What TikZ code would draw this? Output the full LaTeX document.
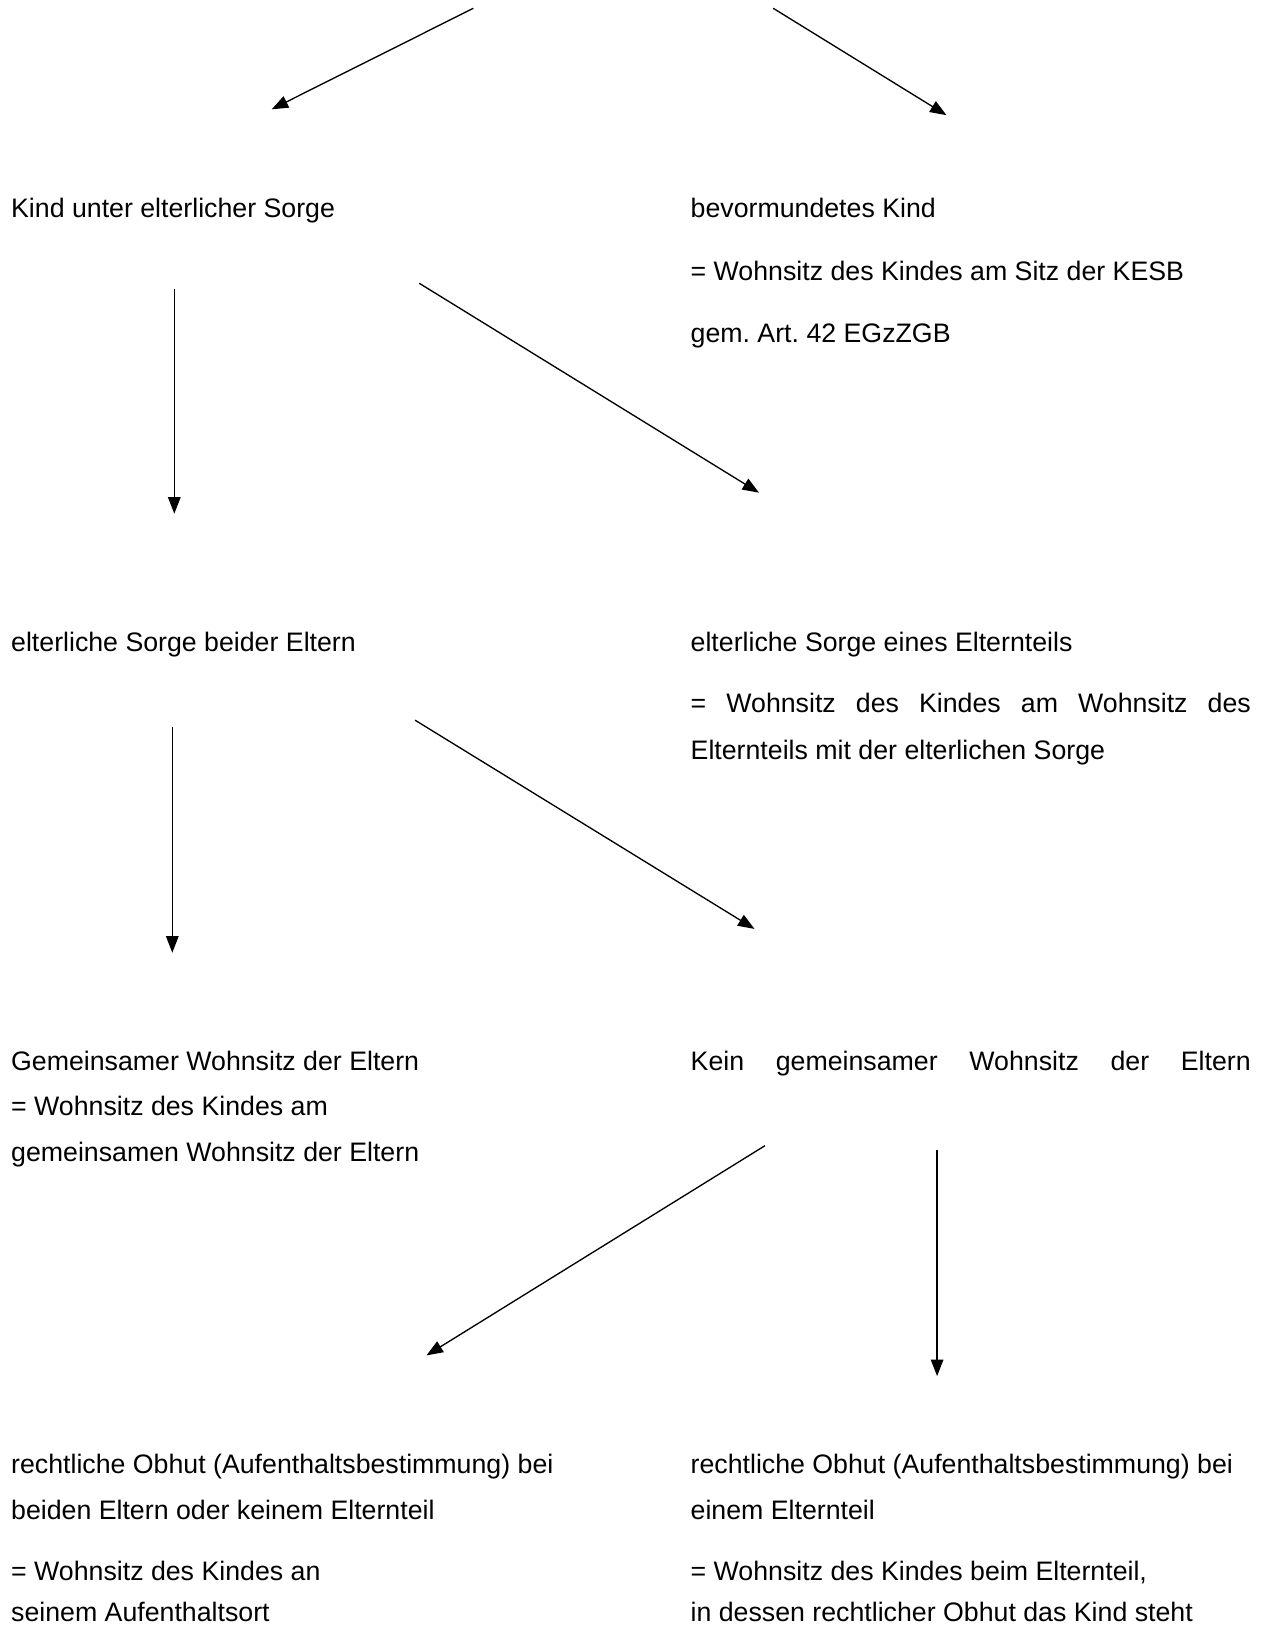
\documentclass[tikz,border=0pt]{standalone}
\usepackage{fontspec}
\setmainfont{Liberation Sans}
\usetikzlibrary{arrows.meta}
\begin{document}
\begin{tikzpicture}[x=0.449pt, y=-0.449pt, font=\fontsize{12}{14}\selectfont\frenchspacing, line join=round, line width=0.6pt, >={Triangle[length=7.4pt,width=5.6pt]}]%Wohnsitz
				\def\l{10.5}
				\def\r{690}
				\def\w{251.5pt}
				\tikzset{t/.style={anchor=base west, inner sep=0pt}}
				\useasboundingbox (0,0) rectangle (1263,1627);
				\node[t] (K1) at (\l,218) {Kind unter elterlicher Sorge};
				\node[t] (B1) at (\r,218) {bevormundetes Kind};
				\node[t] (B2) at (\r,280.3) {= Wohnsitz des Kindes am Sitz der KESB};
				\node[t] (B3) at (\r,342.6) {gem. Art. 42 EGzZGB};
				\node[t] (E1) at (\l,651.8) {elterliche Sorge beider Eltern};
				\node[t] (F1) at (\r,651.8) {elterliche Sorge eines Elternteils};
				\node[t] (F2) at (\r,712.5) {\makebox[\w][s]{= Wohnsitz des Kindes am Wohnsitz des}};
				\node[t] (F3) at (\r,759.7) {Elternteils mit der elterlichen Sorge};
				\node[t] (G1) at (\l,1070) {Gemeinsamer Wohnsitz der Eltern};
				\node[t] (G2) at (\l,1115.7) {= Wohnsitz des Kindes am};
				\node[t] (G3) at (\l,1161.4) {gemeinsamen Wohnsitz der Eltern};
				\node[t] (H1) at (\r,1070) {\makebox[\w][s]{Kein gemeinsamer Wohnsitz der Eltern}};
				\node[t] (O1) at (\l,1473.7) {rechtliche Obhut (Aufenthaltsbestimmung) bei};
				\node[t] (O2) at (\l,1519.4) {beiden Eltern oder keinem Elternteil};
				\node[t] (O3) at (\l,1580) {= Wohnsitz des Kindes an};
				\node[t] (O4) at (\l,1621) {seinem Aufenthaltsort};
				\node[t] (P1) at (\r,1473.7) {rechtliche Obhut (Aufenthaltsbestimmung) bei};
				\node[t] (P2) at (\r,1519.4) {einem Elternteil};
				\node[t] (P3) at (\r,1580) {= Wohnsitz des Kindes beim Elternteil,};
				\node[t] (P4) at (\r,1621) {in dessen rechtlicher Obhut das Kind steht};
				\path(473.3,8.3)coordinate(a1)(271.7,109.3)coordinate(a2)
				(773.2,8.3)coordinate(b1)(946.5,115.2)coordinate(b2)
				(174.3,288.5)coordinate(c1)(174.3,513.7)coordinate(c2)
				(419.3,283.3)coordinate(d1)(759,492.7)coordinate(d2)
				(172.3,726.5)coordinate(e1)(172.3,952.7)coordinate(e2)
				(415.1,720.2)coordinate(f1)(754.5,928.9)coordinate(f2)
				(764.9,1145.7)coordinate(g1)(426.5,1355.4)coordinate(g2)
				(937.1,1149.9)coordinate(h1)(937.1,1376.1)coordinate(h2);
				\foreach \d in{a,b,c,d,e,f,g,h}
				\draw[->](\d1)--(\d2);
			\end{tikzpicture}
\end{document}
